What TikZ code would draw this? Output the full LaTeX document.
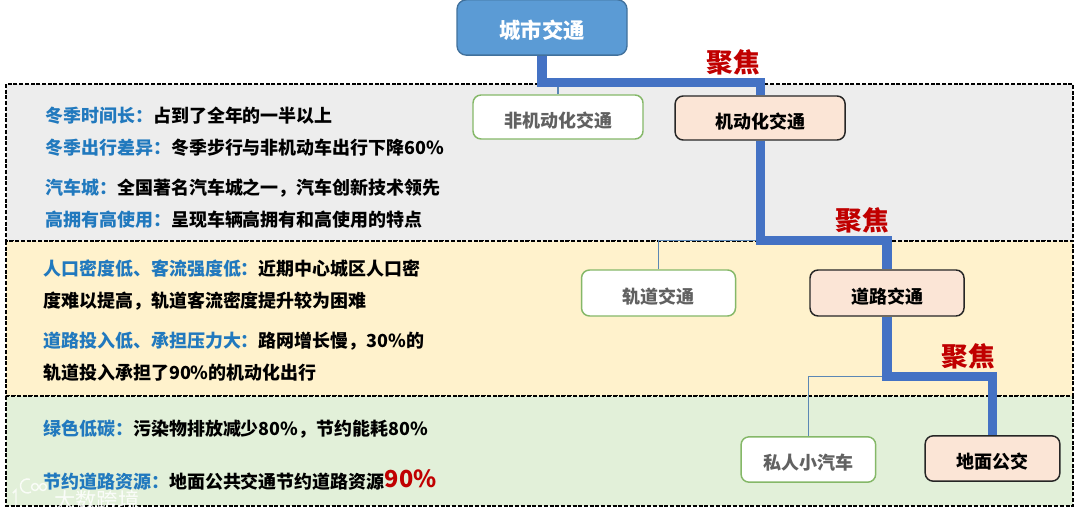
\documentclass[tikz,border=0pt]{standalone}
\usepackage{fontspec}
\setmainfont{Noto Sans CJK SC}
\usepackage{xcolor}
\usetikzlibrary{positioning, calc}
\definecolor{rootblue}{HTML}{5B9BD5}
\definecolor{rootedge}{HTML}{41719C}
\definecolor{linkblue}{HTML}{4472C4}
\definecolor{thinblue}{HTML}{5B87B5}
\definecolor{keyblue}{HTML}{2179BE}
\definecolor{focusred}{HTML}{C00000}
\definecolor{peach}{HTML}{FBE5D6}
\definecolor{plainedge}{HTML}{85B868}
\definecolor{panelgray}{HTML}{EDEDED}
\definecolor{panelyellow}{HTML}{FFF2CC}
\definecolor{panelgreen}{HTML}{E2F0D9}
\newcommand{\kw}[1]{\textcolor{keyblue}{#1}}

\begin{document}
\begin{tikzpicture}[x=0.75pt,y=-0.75pt,
  panel/.style={draw=black,dashed,line width=0.85pt,dash pattern=on 3pt off 1.3pt},
  basebox/.style={rounded corners=6pt,minimum width=127.5pt,minimum height=33pt,
    inner sep=0pt,text height=15.2pt,text depth=0pt,
    font=\fontsize{13.5}{16}\selectfont\bfseries,align=center},
  rootbox/.style={basebox,draw=rootedge,fill=rootblue,text=white,line width=1pt,
    rounded corners=7pt,minimum height=41.5pt,text height=16pt,
    font=\fontsize{16}{18}\selectfont\bfseries},
  plainbox/.style={basebox,draw=plainedge,fill=white,text=black!62,line width=1.1pt},
  focusbox/.style={basebox,draw=black!85,fill=peach,text=black,line width=1.1pt},
  txt/.style={anchor=west,inner sep=0pt,yshift=-0.75pt,font=\fontsize{13.48}{16}\selectfont\bfseries},
  focuslabel/.style={inner sep=0pt,text=focusred,font=\fontsize{20}{24}\selectfont\bfseries},
  mainlink/.style={draw=linkblue,line width=6.8pt},
  sidelink/.style={draw=thinblue,line width=0.8pt},
  logomark/.style={draw=white,opacity=0.8,line width=1.1pt}]
  \useasboundingbox (0,0) rectangle (1080,516);
  %% panels
  \path[panel,fill=panelgray](6,84) rectangle (1073,241);
  \path[panel,fill=panelyellow](6,241) rectangle (1073,396);
  \path[panel,fill=panelgreen](6,396) rectangle (1073,506);
  %% tree
  \node[rootbox](root) at (542,27.5){城市交通};
  \node[plainbox](nonmotor) at (558,117){非机动化交通};
  \node[focusbox,right=23pt of nonmotor,yshift=-0.75pt](motor){机动化交通};
  \node[focusbox,minimum width=115.5pt,minimum height=34.5pt](road) at (887,293){道路交通};
  \node[plainbox,minimum width=115.5pt,minimum height=34.5pt,left=54.75pt of road](rail){轨道交通};
  \node[focusbox,minimum width=101pt,minimum height=34pt](bus) at (992.5,458.5){地面公交};
  \node[plainbox,minimum width=101pt,minimum height=34pt,left=36pt of bus,yshift=-0.75pt](car){私人小汽车};
  %% bends
  \coordinate(rootbend) at ($(root.south)+(0,27)$);
  \coordinate(motorbend) at ($(motor.south)+(0,100)$);
  \coordinate(roadbend) at ($(road.south)+(0,60)$);
  %% side branches
  \draw[sidelink](nonmotor.north)--(nonmotor.north |- rootbend);
  \draw[sidelink](rail.north)|-(motorbend);
  \draw[sidelink](car.north)|-(roadbend);
  %% focus path
  \draw[mainlink](root.south)--(rootbend)-|(motor.north);
  \draw[mainlink](motor.south)--(motorbend)-|(road.north);
  \draw[mainlink](road.south)--(roadbend)-|(bus.north);
  \node[focuslabel](focusa) at (733,62){聚焦};
  \node[focuslabel](focusb) at (862,220){聚焦};
  \node[focuslabel](focusc) at (968,356){聚焦};
  %% gray panel text
  \node[txt](wintera) at (45,115){\kw{冬季时间长：}占到了全年的一半以上};
  \node[txt](winterb) at (45,147){\kw{冬季出行差异：}冬季步行与非机动车出行下降60\%};
  \node[txt](citya) at (45,187){\kw{汽车城：}全国著名汽车城之一，汽车创新技术领先};
  \node[txt](cityb) at (45,219){\kw{高拥有高使用：}呈现车辆高拥有和高使用的特点};
  %% yellow panel text
  \node[txt](densitya) at (43,268){\kw{人口密度低、客流强度低：}近期中心城区人口密};
  \node[txt](densityb) at (43,300){度难以提高，轨道客流密度提升较为困难};
  \node[txt](invesa) at (43,340){\kw{道路投入低、承担压力大：}路网增长慢，30\%的};
  \node[txt](invesb) at (43,372){轨道投入承担了90\%的机动化出行};
  %% green panel text
  \node[txt](greena) at (43,428){\kw{绿色低碳：}污染物排放减少80\%，节约能耗80\%};
  \node[txt](greenb) at (43,479){\kw{节约道路资源：}地面公共交通节约道路资源\raisebox{1.2pt}{\fontsize{17.6}{20}\selectfont\textcolor{focusred}{90\%}}};
  %% watermark
  \draw[logomark](13,493)--(16,490)--(16,505);
  \draw[logomark](31,492) arc (60:290:7);
  \draw[logomark](35,487) circle (3.5);
  \draw[logomark](43,487) circle (3.5);
  \node[txt,text=white,opacity=0.85,font=\fontsize{16}{18}\selectfont](mark) at (54,499){大数跨境};
\end{tikzpicture}
\end{document}
